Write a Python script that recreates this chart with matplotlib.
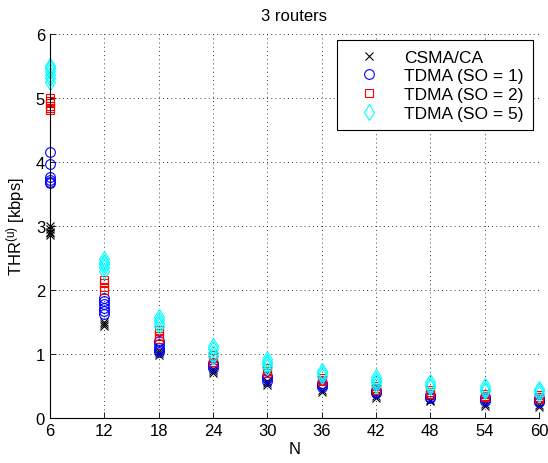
import matplotlib
matplotlib.use("Agg")
import matplotlib.pyplot as plt

plt.rcParams['font.family'] = ['Liberation Sans', 'DejaVu Sans']
plt.rcParams['mathtext.fontset'] = 'custom'
plt.rcParams['mathtext.rm'] = 'Liberation Sans'
plt.rcParams['mathtext.it'] = 'Liberation Sans:italic'

# Number of nodes per network
n_values = [6, 12, 18, 24, 30, 36, 42, 48, 54, 60]

# Per-user throughput [kbps], several runs per N
thr_csma = [
    [3.00, 2.95, 2.91, 2.88, 2.85],
    [1.50, 1.47, 1.44],
    [1.05, 1.02, 0.99],
    [0.76, 0.73, 0.70],
    [0.58, 0.55, 0.52],
    [0.44, 0.41],
    [0.34, 0.31],
    [0.28, 0.26],
    [0.22, 0.19],
    [0.20, 0.17],
]
thr_so1 = [
    [4.15, 3.96, 3.76, 3.72, 3.69, 3.66],
    [1.88, 1.83, 1.78, 1.72, 1.67, 1.63],
    [1.20, 1.15, 1.10, 1.06, 1.03],
    [0.86, 0.82, 0.78],
    [0.66, 0.62, 0.58],
    [0.55, 0.51, 0.48],
    [0.44, 0.41, 0.39],
    [0.36, 0.33, 0.31],
    [0.32, 0.29, 0.27],
    [0.31, 0.27, 0.25],
]
thr_so2 = [
    [4.99, 4.95, 4.91, 4.87, 4.83, 4.80],
    [2.15, 2.10, 2.05, 2.00],
    [1.38, 1.33, 1.28, 1.24],
    [0.98, 0.93, 0.88],
    [0.78, 0.74, 0.70],
    [0.63, 0.60, 0.57],
    [0.50, 0.47, 0.44],
    [0.44, 0.40, 0.37],
    [0.38, 0.35, 0.32],
    [0.36, 0.33, 0.30],
]
thr_so5 = [
    [5.50, 5.46, 5.42, 5.36, 5.30, 5.24],
    [2.48, 2.44, 2.40, 2.36, 2.30],
    [1.58, 1.53, 1.48, 1.44],
    [1.12, 1.07, 1.02, 0.97],
    [0.92, 0.88, 0.84, 0.80],
    [0.74, 0.70, 0.66],
    [0.64, 0.60, 0.56, 0.52],
    [0.56, 0.52, 0.48],
    [0.50, 0.46, 0.42],
    [0.46, 0.42, 0.38],
]

series = [
    ("CSMA/CA", thr_csma, dict(marker='x', color='black', ms=5.5)),
    ("TDMA (SO = 1)", thr_so1, dict(marker='o', color='blue', ms=7, mfc='none')),
    ("TDMA (SO = 2)", thr_so2, dict(marker='s', color='red', ms=6, mfc='none')),
    ("TDMA (SO = 5)", thr_so5, dict(marker='d', color='cyan', ms=8, mfc='none')),
]

fig = plt.figure(figsize=(5.48, 4.64), dpi=100)
ax = fig.add_axes([0.0912, 0.097, 0.8924, 0.8286])

for label, data, style in series:
    xs = [n for n, vals in zip(n_values, data) for _ in vals]
    ys = [v for vals in data for v in vals]
    ax.plot(xs, ys, linestyle='none', mew=0.8, label=label, clip_on=False, **style)

ax.set_xlim(6, 60)
ax.set_ylim(0, 6)
ax.set_xticks(n_values)
ax.set_yticks(range(0, 7))
ax.tick_params(direction='in', length=4, width=0.6, labelsize=12,
               top=False, right=False)
for side in ('top', 'right'):
    ax.spines[side].set_visible(False)
for side in ('left', 'bottom'):
    ax.spines[side].set_linewidth(0.8)
ax.grid(True, linestyle=(0, (1, 4)), color='black', linewidth=0.6)
ax.set_axisbelow(True)

ax.set_title("3 routers", fontsize=12, pad=10)
ax.set_xlabel("N", fontsize=12, labelpad=2)
ax.set_ylabel(r"THR$^{\rm (u)}$ [kbps]", fontsize=12, labelpad=6)

leg = ax.legend(loc='upper right', bbox_to_anchor=(0.988, 0.983), fontsize=12.5,
                frameon=True, fancybox=False, edgecolor='black', framealpha=1,
                handlelength=2.6, handletextpad=0.7, labelspacing=0.2,
                borderpad=0.55, borderaxespad=0)
leg.get_frame().set_linewidth(0.8)

fig.savefig("out.png", dpi=100)
